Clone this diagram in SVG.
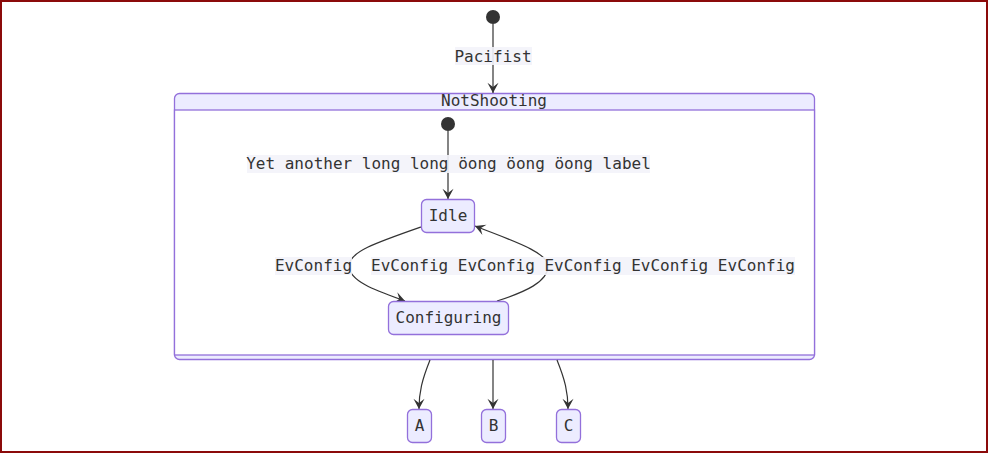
<svg xmlns="http://www.w3.org/2000/svg" width="988" height="453" viewBox="0 0 988 453">
<style>
.t{font-family:"DejaVu Sans Mono","Liberation Mono",monospace;font-size:16px;fill:#333;text-anchor:middle;dominant-baseline:central}
.node{fill:#ECECFF;stroke:#9370DB;stroke-width:1.3}
.e{fill:none;stroke:#333;stroke-width:1.2}
.lb{fill:#f3f3fa;opacity:0.9}
.start{fill:#333}
</style>
<defs>
<marker id="ah" viewBox="0 0 20 14" refX="19" refY="7" markerWidth="17" markerHeight="12" markerUnits="userSpaceOnUse" orient="auto">
<path d="M19,7 L7,13.5 L12,7 L7,0.5 Z" fill="#333"/>
</marker>
</defs>
<rect x="1" y="1" width="986" height="451" fill="#fff" stroke="#8b0a0a" stroke-width="2"/>

<g id="NotShooting">
<rect x="174.5" y="93.5" width="640" height="266" rx="5" class="node"/>
<rect x="174.5" y="110" width="640" height="245" fill="#fff" stroke="#9370DB" stroke-width="1.3"/>
<text class="t" x="494" y="100.5">NotShooting</text>
</g>

<g id="connectors">
<path class="e" d="M493,24 L493,93" marker-end="url(#ah)"/>
<path class="e" d="M448,131 L448,199" marker-end="url(#ah)"/>
<path class="e" d="M421,227 C375,243 349,252 349,266 C349,282 380,292 405,301" marker-end="url(#ah)"/>
<path class="e" d="M497,301 C525,292 548,282 548,266 C548,252 510,240 475,226" marker-end="url(#ah)"/>
<path class="e" d="M430,360 C422,380 419,392 419,409" marker-end="url(#ah)"/>
<path class="e" d="M493,360 L493,409" marker-end="url(#ah)"/>
<path class="e" d="M557,360 C565,380 568,392 568,409" marker-end="url(#ah)"/>
<rect class="lb" x="455" y="47" width="77" height="18"/>
<text class="t" x="493" y="56">Pacifist</text>
<rect class="lb" x="247" y="155" width="403" height="18"/>
<text class="t" x="448.5" y="163.5">Yet another long long öong öong öong label</text>
<rect class="lb" x="275" y="257" width="77" height="18"/>
<text class="t" x="313.5" y="265.5">EvConfig</text>
<rect class="lb" x="371" y="257" width="424" height="18"/>
<text class="t" x="583" y="265.5">EvConfig EvConfig EvConfig EvConfig EvConfig</text>
</g>

<g id="start_outer"><circle class="start" cx="493" cy="17" r="7"/></g>
<g id="start_inner"><circle class="start" cx="448" cy="124" r="7"/></g>

<g id="Idle">
<rect x="421.5" y="199.5" width="53" height="33" rx="5" class="node"/>
<text class="t" x="448" y="215">Idle</text>
</g>
<g id="Configuring">
<rect x="388.5" y="301.5" width="120" height="33" rx="5" class="node"/>
<text class="t" x="448.5" y="317">Configuring</text>
</g>
<g id="A">
<rect x="407.5" y="409.5" width="24" height="33" rx="5" class="node"/>
<text class="t" x="419.5" y="425">A</text>
</g>
<g id="B">
<rect x="481.5" y="409.5" width="24" height="33" rx="5" class="node"/>
<text class="t" x="493.5" y="425">B</text>
</g>
<g id="C">
<rect x="556.5" y="409.5" width="24" height="33" rx="5" class="node"/>
<text class="t" x="568.5" y="425">C</text>
</g>
</svg>
